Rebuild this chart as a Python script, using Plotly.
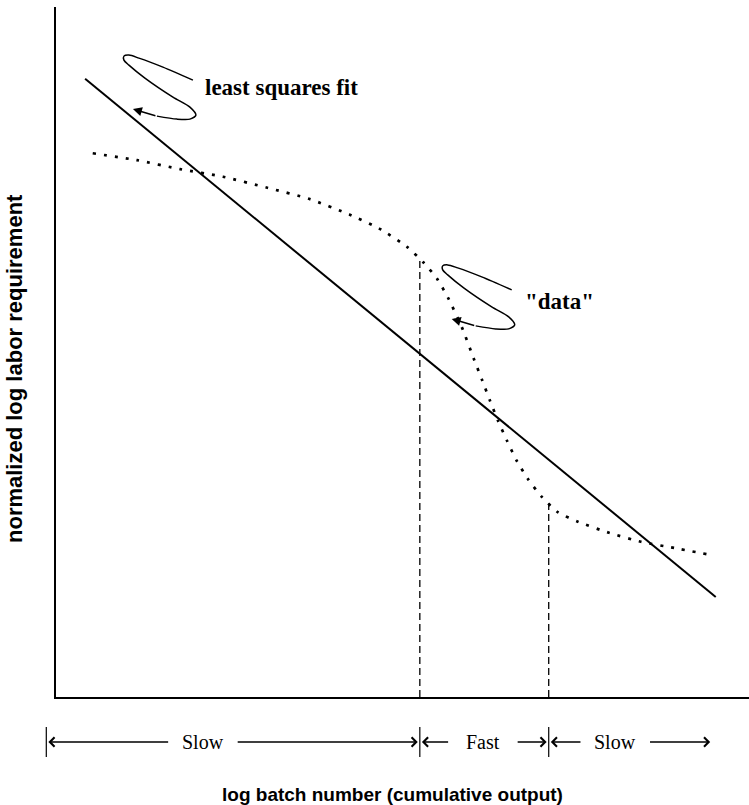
import numpy as np
import plotly.graph_objects as go

# ---- data (arbitrary log units, both axes 0..100) ----
fit_x = [4.2, 95.2]
fit_y = [89.6, 14.5]

data_x = [5.3, 11.7, 17.9, 24.1, 30.5, 36.5, 42.4, 46.8, 50.7, 53.0, 55.0, 56.6,
          58.6, 60.3, 61.5, 62.6, 63.8, 65.1, 66.5, 68.1, 70.1, 72.4, 75.3, 79.8,
          84.4, 89.2, 93.9]
data_y = [78.8, 77.8, 76.5, 75.4, 73.8, 72.2, 69.9, 67.8, 65.2, 63.0, 60.6, 57.8,
          53.5, 49.0, 45.9, 43.0, 40.0, 37.1, 34.2, 31.6, 29.0, 26.8, 25.4, 23.8,
          22.5, 21.6, 20.7]

# learning phases along the batch axis
phase_bounds = [-1.4, 52.5, 71.1, 94.7]
phase_labels = ["Slow", "Fast", "Slow"]
phase_label_x = [21.2, 61.6, 80.7]

# ---- layout geometry ----
W, H = 749, 805
ML, MR, MT, MB = 56, 0, 7, 108
plot_w = W - ML - MR
plot_h = H - MT - MB
px_x = plot_w / 100.0   # pixels per x unit
px_y = plot_h / 100.0   # pixels per y unit


def paper_y_of_px(py):
    """vertical page pixel -> paper coordinate"""
    return (H - MB - py) / plot_h


def paper_x_of_px(px):
    return (px - ML) / plot_w


fig = go.Figure()

# least squares fit
fig.add_trace(go.Scatter(x=fit_x, y=fit_y, mode="lines",
                         line=dict(color="black", width=2), hoverinfo="skip"))

# "data" curve (dotted)
fig.add_trace(go.Scatter(x=data_x, y=data_y, mode="lines",
                         line=dict(color="black", width=2.7, dash="3px,8px",
                                   shape="spline", smoothing=0.6),
                         hoverinfo="skip"))

# dashed verticals at the inner phase boundaries, up to the data curve
for xb in phase_bounds[1:3]:
    top = float(np.interp(xb, data_x, data_y))
    fig.add_trace(go.Scatter(x=[xb, xb], y=[0, top], mode="lines",
                             line=dict(color="black", width=1.3, dash="7px,4px"),
                             hoverinfo="skip"))

# curled leader (pixel offsets relative to the arrow tip, y downward)
curl_dx = [60, 30, 6, -4, -9, -9, -4, 12, 40, 57, 63, 57, 44, 24]
curl_dy = [-29, -42, -51, -54, -53, -49, -44, -31, -12, -2, 6, 10, 10, 7]


def add_callout(tip_x, tip_y, label, lx, ly):
    cx = [tip_x + dx / px_x for dx in curl_dx]
    cy = [tip_y - dy / px_y for dy in curl_dy]
    fig.add_trace(go.Scatter(x=cx, y=cy, mode="lines",
                             line=dict(color="black", width=1.5, shape="spline",
                                       smoothing=0.8),
                             hoverinfo="skip"))
    fig.add_annotation(x=tip_x, y=tip_y, ax=cx[-1], ay=cy[-1],
                       xref="x", yref="y", axref="x", ayref="y",
                       text="", showarrow=True, arrowhead=2, arrowsize=1.2,
                       arrowwidth=1.5, arrowcolor="black")
    fig.add_annotation(x=lx, y=ly, xref="x", yref="y", text=label,
                       showarrow=False, xanchor="left", yanchor="middle",
                       font=dict(family="Liberation Serif", size=23, color="black"))


add_callout(11.1, 85.2, "<b>least squares fit</b>", 21.2, 88.4)
add_callout(57.1, 54.8, "<b>\"data\"</b>", 67.4, 57.3)

# phase ruler below the axis
row_y = paper_y_of_px(742)
tick_lo, tick_hi = paper_y_of_px(757), paper_y_of_px(727)
for xb in phase_bounds[:3]:
    fig.add_shape(type="line", xref="paper", yref="paper",
                  x0=xb / 100, x1=xb / 100, y0=tick_lo, y1=tick_hi,
                  line=dict(color="black", width=1.2))

gap = 4.8
for a, b, c, lab in zip(phase_bounds[:-1], phase_bounds[1:], phase_label_x, phase_labels):
    fig.add_annotation(x=c / 100, y=row_y, xref="paper", yref="paper",
                       text=lab, showarrow=False, xanchor="center", yanchor="middle",
                       font=dict(family="Liberation Serif", size=20, color="black"))
    # left-pointing arrow to start of phase
    fig.add_annotation(x=(a + 0.3) / 100, y=row_y, xref="paper", yref="paper",
                       axref="pixel", ayref="pixel",
                       ax=(c - gap - a - 0.3) * px_x, ay=0, text="",
                       showarrow=True, arrowhead=4, arrowsize=1.3, arrowwidth=1.4,
                       arrowcolor="black")
    # right-pointing arrow to end of phase
    fig.add_annotation(x=(b - 0.3) / 100, y=row_y, xref="paper", yref="paper",
                       axref="pixel", ayref="pixel",
                       ax=(c + gap - b + 0.3) * px_x, ay=0, text="",
                       showarrow=True, arrowhead=4, arrowsize=1.3, arrowwidth=1.4,
                       arrowcolor="black")

# axis titles
fig.add_annotation(x=paper_x_of_px(392), y=paper_y_of_px(794), xref="paper", yref="paper",
                   xanchor="center", yanchor="middle",
                   text="<b>log batch number (cumulative output)</b>", showarrow=False,
                   font=dict(family="Liberation Sans", size=19, color="black"))
fig.add_annotation(x=paper_x_of_px(15), y=paper_y_of_px(369), xref="paper", yref="paper",
                   xanchor="center", yanchor="middle",
                   text="<b>normalized log labor requirement</b>", showarrow=False,
                   textangle=-90,
                   font=dict(family="Liberation Sans", size=22, color="black"))

fig.update_xaxes(range=[0, 100], showline=True, linewidth=2, linecolor="black",
                 showgrid=False, zeroline=False, showticklabels=False, ticks="")
fig.update_yaxes(range=[0, 100], showline=True, linewidth=2, linecolor="black",
                 showgrid=False, zeroline=False, showticklabels=False, ticks="")
fig.update_layout(width=W, height=H, showlegend=False,
                  margin=dict(l=ML, r=MR, t=MT, b=MB),
                  paper_bgcolor="white", plot_bgcolor="white")

fig.write_html("out.html")
